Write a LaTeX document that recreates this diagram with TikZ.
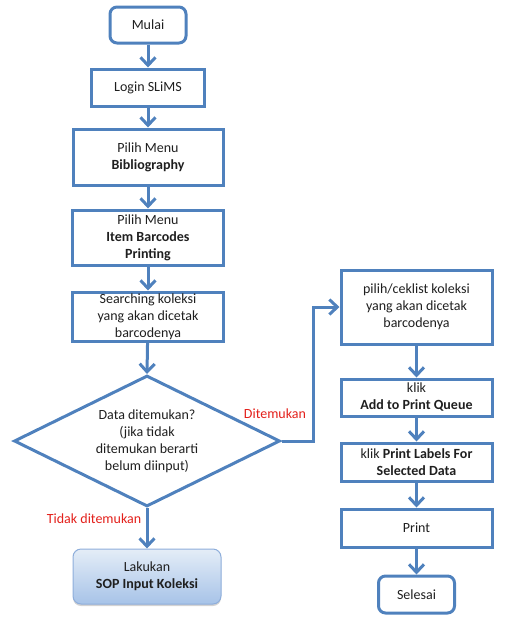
\documentclass[tikz,border=0pt]{standalone}
\usepackage{fontspec}
\setmainfont{Carlito}
\usetikzlibrary{arrows.meta,shapes.geometric,shadows}
\definecolor{bl}{HTML}{4F81BD}
\definecolor{txt}{HTML}{1F1F1F}
\definecolor{lbl}{HTML}{E3201B}
\definecolor{sopTop}{HTML}{E4EDF7}
\definecolor{sopBot}{HTML}{A7C3E8}
\definecolor{sopLine}{HTML}{8EAEDB}
\begin{document}
\begin{tikzpicture}[x=1pt,y=-1pt,
  every node/.style={font=\fontsize{14}{17}\selectfont, text=txt},
  procbox/.style={draw=bl, line width=3pt, align=center, inner sep=0pt},
  termbox/.style={procbox, rounded corners=7pt},
  arr/.style={draw=bl, line width=3pt, -{Straight Barb[length=8pt,width=15pt]}},
  lab/.style={text=lbl}
]
\useasboundingbox (0,0) rectangle (506,619);

% left column
\node[termbox, minimum width=76pt, minimum height=36pt] (mulai) at (148,25) {Mulai};
\node[procbox, minimum width=113pt, minimum height=37pt] (login) at (148,87.5) {Login SLiMS};
\node[procbox, minimum width=150pt, minimum height=56pt] (biblio) at (148,157) {Pilih Menu\\\textbf{Bibliography}};
\node[procbox, minimum width=151pt, minimum height=55pt] (item) at (148,237.5) {Pilih Menu\\\textbf{Item Barcodes}\\\textbf{Printing}};
\node[procbox, minimum width=151pt, minimum height=49pt] (search) at (148,316.5) {Searching koleksi\\yang akan dicetak\\barcodenya};
\node[draw=bl, line width=3pt, diamond, aspect=2, inner sep=0pt, align=center,
      minimum width=266pt, minimum height=131pt] (dia) at (147,441)
      {Data ditemukan?\\(jika tidak\\ditemukan berarti\\belum diinput)};
\node[rounded corners=8pt, top color=sopTop, bottom color=sopBot, draw=sopLine, line width=1pt,
      drop shadow={shadow xshift=0pt, shadow yshift=-2pt, opacity=0.35},
      align=center, minimum width=148pt, minimum height=55pt] (sop) at (147,576.5)
      {Lakukan\\\textbf{SOP Input Koleksi}};

% right column
\node[procbox, minimum width=151pt, minimum height=74pt] (pilih) at (416.5,307) {pilih/ceklist koleksi\\yang akan dicetak\\barcodenya};
\node[procbox, minimum width=151pt, minimum height=37pt] (add) at (416.5,397.5) {klik\\\textbf{Add to Print Queue}};
\node[procbox, minimum width=151pt, minimum height=38pt] (labels) at (416.5,462) {klik \textbf{Print Labels For}\\\textbf{Selected Data}};
\node[procbox, minimum width=151pt, minimum height=38pt] (print) at (416.5,528) {Print};
\node[termbox, minimum width=76pt, minimum height=37pt] (selesai) at (416.5,594.5) {Selesai};

% connectors
\draw[arr] (mulai) -- (login);
\draw[arr] (login) -- (biblio);
\draw[arr] (biblio) -- (item);
\draw[arr] (item) -- (search);
\draw[arr] (search) -- (dia.north);
\coordinate (bend) at (313,307);
\draw[arr] (dia.east) -| (bend) -- (pilih.west);
\draw[arr] (dia.south) -- (sop.north -| dia.south);
\draw[arr] (pilih) -- (add);
\draw[arr] (add) -- (labels);
\draw[arr] (labels) -- (print);
\draw[arr] (print) -- (selesai);

% labels
\node[lab] (lyes) at (275,414) {Ditemukan};
\node[lab] (lno) at (94,519) {Tidak ditemukan};
\end{tikzpicture}
\end{document}
